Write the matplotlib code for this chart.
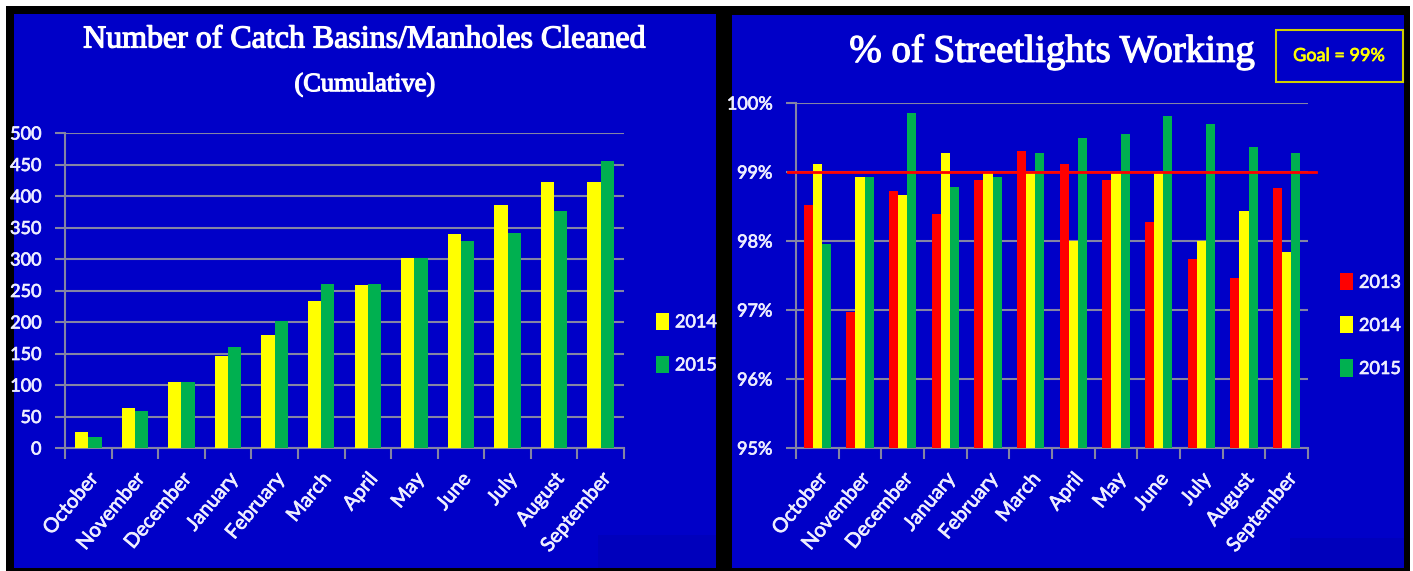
import matplotlib
matplotlib.use("Agg")
import matplotlib.pyplot as plt
from matplotlib.patches import Rectangle
import matplotlib.patheffects as pe
import numpy as np

# ---------------- data ----------------
months = ['October', 'November', 'December', 'January', 'February', 'March',
          'April', 'May', 'June', 'July', 'August', 'September']

cb_2014 = [25, 64, 104, 146, 180, 234, 258, 301, 339, 385, 422, 422]
cb_2015 = [17, 59, 104, 161, 202, 260, 260, 301, 328, 342, 376, 456]
cb_ticks = [0, 50, 100, 150, 200, 250, 300, 350, 400, 450, 500]

sl_2013 = [98.52, 96.97, 98.72, 98.39, 98.88, 99.31, 99.11, 98.88, 98.28, 97.74, 97.46, 98.77]
sl_2014 = [99.11, 98.93, 98.67, 99.27, 99.00, 99.00, 98.00, 99.00, 99.00, 98.00, 98.44, 97.84]
sl_2015 = [97.95, 98.93, 99.86, 98.78, 98.93, 99.27, 99.50, 99.55, 99.81, 99.70, 99.36, 99.27]
sl_ticks = [95, 96, 97, 98, 99, 100]
goal = 99

# ---------------- style ----------------
W, H = 1413, 571
BLUE = '#0000C8'
YEL = '#FFFF00'
GRN = '#00B050'
RED = '#FF0000'
TXT = '#EEEEFF'
GRID = '#8484A4'
SANS = ['Lato', 'DejaVu Sans']
SERIF = ['Liberation Serif', 'DejaVu Serif']

fig = plt.figure(figsize=(W / 100, H / 100), dpi=100, facecolor='white')


def px_rect(x0, y0, x1, y1, color, z=0):
    r = Rectangle((x0 / W, 1 - y1 / H), (x1 - x0) / W, (y1 - y0) / H,
                  transform=fig.transFigure, facecolor=color, edgecolor='none', zorder=z)
    fig.add_artist(r)
    return r


def px_axes(x0, y0, x1, y1):
    return fig.add_axes([x0 / W, 1 - y1 / H, (x1 - x0) / W, (y1 - y0) / H])


# frames and panels
px_rect(6, 6, 1410, 571, 'black', z=-3)
px_rect(14, 14, 716, 568, BLUE, z=-2)
px_rect(732, 15, 1404, 568, BLUE, z=-2)
px_rect(598, 535, 716, 568, '#0000BC', z=-1)
px_rect(1290, 538, 1404, 568, '#0000BC', z=-1)

label_fx = [pe.withStroke(linewidth=0.5, foreground=TXT)]


def style_axes(ax, ticks, labels):
    ax.set_facecolor('none')
    for s in ['top', 'right']:
        ax.spines[s].set_visible(False)
    for s in ['left', 'bottom']:
        ax.spines[s].set_color(GRID)
        ax.spines[s].set_linewidth(1.5)
    ax.set_xlim(-0.5, 11.5)
    ax.set_yticks(ticks)
    ax.set_yticklabels(labels, fontfamily=SANS, fontsize=13, color=TXT,
                       path_effects=label_fx)
    ax.yaxis.grid(True, color=GRID, linewidth=1.5)
    ax.set_axisbelow(True)
    ax.tick_params(axis='y', length=7, width=1.5, color=GRID, pad=10)
    ax.set_xticks(np.arange(12))
    ax.set_xticklabels(months, rotation=50, ha='right', va='top',
                       rotation_mode='anchor', fontfamily=SANS, fontsize=14.5,
                       color=TXT, path_effects=label_fx)
    ax.tick_params(axis='x', which='major', length=0, pad=16)
    ax.set_xticks(np.arange(-0.5, 12, 1), minor=True)
    ax.tick_params(axis='x', which='minor', length=8, width=1.5, color=GRID)


title_fx = [pe.withStroke(linewidth=0.9, foreground='white')]

# ---------------- left chart ----------------
ax1 = px_axes(65, 133, 624, 448)
x = np.arange(len(months))
bw = 0.285
b14 = ax1.bar(x - bw / 2, cb_2014, bw, color=YEL, label='2014', zorder=3)
b15 = ax1.bar(x + bw / 2, cb_2015, bw, color=GRN, label='2015', zorder=3)
ax1.set_ylim(0, 500)
style_axes(ax1, cb_ticks, [str(t) for t in cb_ticks])

fig.text(365 / W, 1 - 40 / H, 'Number of Catch Basins/Manholes Cleaned',
         ha='center', va='center', fontfamily=SERIF, fontsize=23, color='white',
         path_effects=title_fx)
fig.text(365 / W, 1 - 85 / H, '(Cumulative)', ha='center', va='center',
         fontfamily=SERIF, fontsize=19, color='white', path_effects=title_fx)

leg_kw = dict(loc='center left', frameon=False, handlelength=0.7, handleheight=1.1,
              handletextpad=0.35, labelspacing=1.4, borderpad=0, borderaxespad=0,
              prop={'family': SANS, 'size': 13})
leg1 = fig.legend(handles=[b14, b15], labels=['2014', '2015'],
                  bbox_to_anchor=(656 / W, 1 - 343 / H), **leg_kw)
for t in leg1.get_texts():
    t.set_color(TXT)
    t.set_path_effects(label_fx)

# ---------------- right chart ----------------
ax2 = px_axes(796, 103, 1308, 448)
bw2 = 0.214
r13 = ax2.bar(x - bw2, sl_2013, bw2, color=RED, label='2013', zorder=3)
r14 = ax2.bar(x, sl_2014, bw2, color=YEL, label='2014', zorder=3)
r15 = ax2.bar(x + bw2, sl_2015, bw2, color=GRN, label='2015', zorder=3)
ax2.set_ylim(95, 100)
style_axes(ax2, sl_ticks, ['%d%%' % t for t in sl_ticks])
ax2.plot([-0.015, 1.015], [goal, goal], color=RED, linewidth=2,
         transform=ax2.get_yaxis_transform(), clip_on=False, zorder=4)

fig.text(1052 / W, 1 - 52 / H, '% of Streetlights Working',
         ha='center', va='center', fontfamily=SERIF, fontsize=28, color='white',
         path_effects=title_fx)

gbox = Rectangle((1276 / W, 1 - 82 / H), 127 / W, 52 / H, transform=fig.transFigure,
                 facecolor='none', edgecolor='#D0D000', linewidth=1.5)
fig.add_artist(gbox)
fig.text(1339 / W, 1 - 56 / H, 'Goal = 99%', ha='center', va='center',
         fontfamily=SANS, fontsize=13, color=YEL,
         path_effects=[pe.withStroke(linewidth=0.5, foreground=YEL)])

leg2 = fig.legend(handles=[r13, r14, r15], labels=['2013', '2014', '2015'],
                  bbox_to_anchor=(1340 / W, 1 - 325 / H), **leg_kw)
for t in leg2.get_texts():
    t.set_color(TXT)
    t.set_path_effects(label_fx)

fig.savefig('out.png', dpi=100, facecolor='white')
